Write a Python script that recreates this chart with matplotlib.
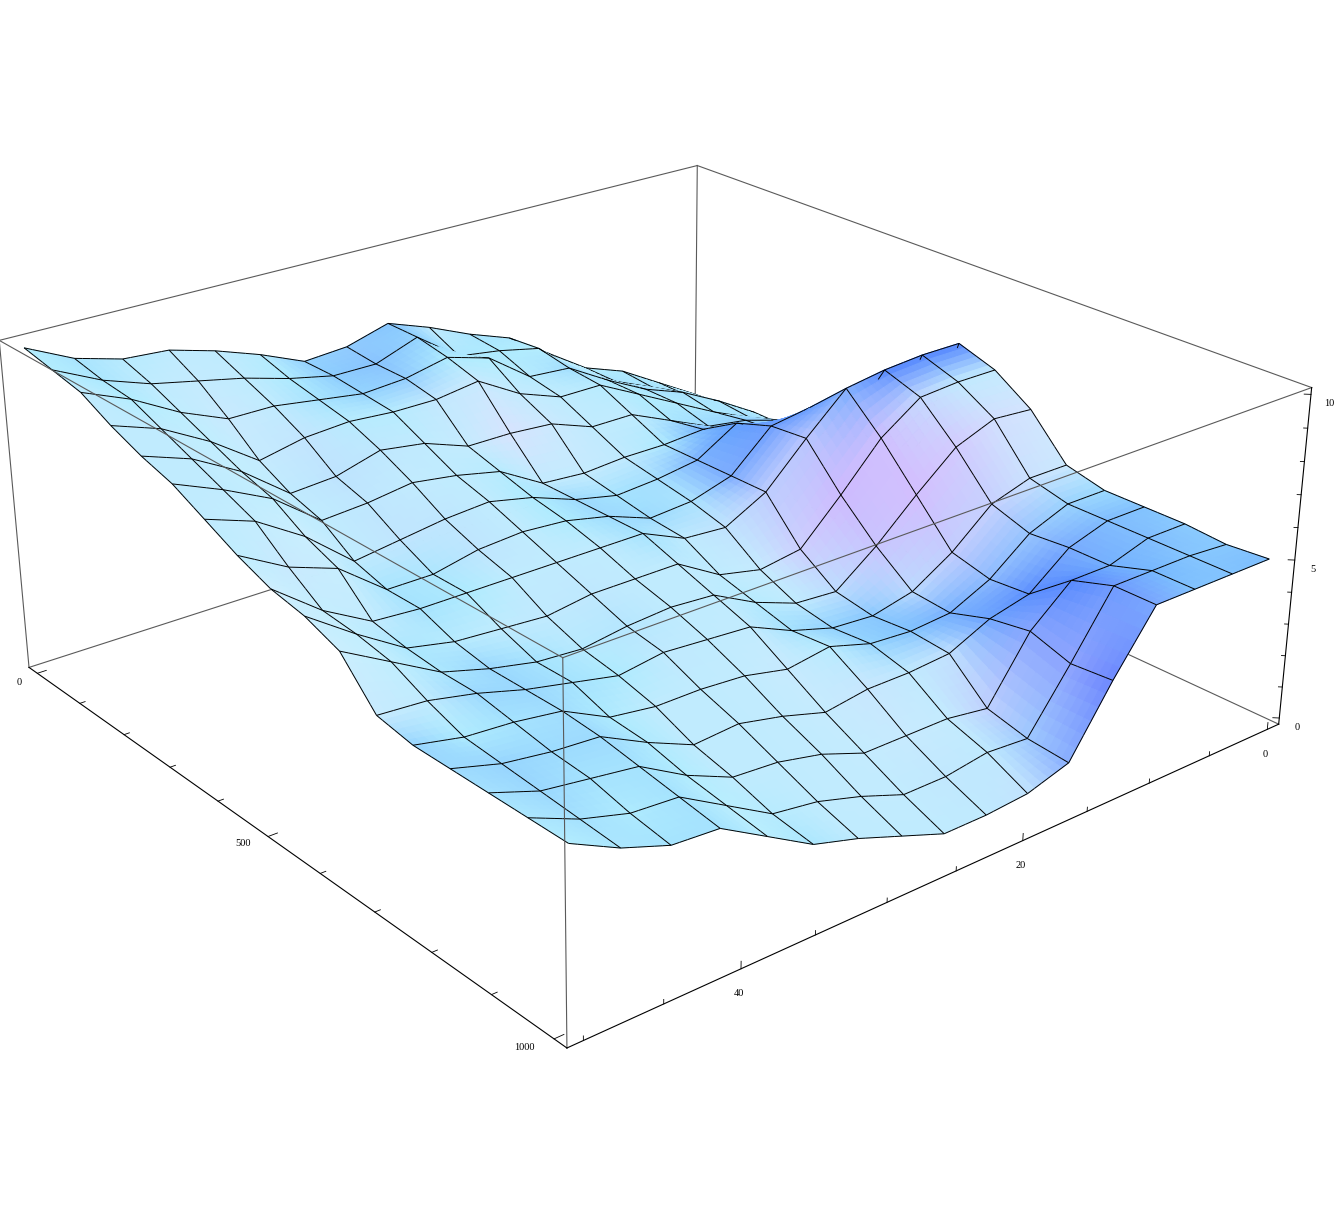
import numpy as np
import matplotlib
matplotlib.use("Agg")
import matplotlib.pyplot as plt
from mpl_toolkits.mplot3d import proj3d
from mpl_toolkits.mplot3d.art3d import Poly3DCollection

# height at each mesh crossing; index [x step][y step]
x_vals = np.linspace(0, 1000, 17)
y_vals = np.linspace(0, 50, 17)
z_rows = np.array([
    [2.3, 3.1, 3.9, 4.4, 5.3, 6.2, 6.7, 7.3, 7.8, 7.4, 7.3, 7.9, 8.4, 8.8, 8.9, 9.3, 10.0],
    [2.4, 3.1, 3.8, 4.4, 5.1, 6.3, 6.6, 6.8, 7.8, 7.3, 7.3, 7.6, 8.0, 8.3, 8.6, 9.1, 9.8],
    [2.6, 3.4, 4.1, 4.6, 5.3, 6.1, 6.2, 7.2, 7.6, 7.3, 7.2, 7.4, 7.6, 7.6, 8.2, 9.0, 9.6],
    [2.6, 3.3, 3.9, 4.6, 5.3, 6.0, 6.0, 6.5, 7.3, 7.1, 7.1, 7.2, 7.1, 6.8, 7.8, 8.6, 9.1],
    [2.9, 3.7, 4.1, 4.3, 4.9, 5.5, 5.5, 6.0, 6.1, 6.1, 6.6, 6.8, 6.4, 6.3, 7.4, 8.2, 8.7],
    [3.1, 3.7, 4.2, 4.6, 5.1, 5.0, 5.0, 4.9, 5.0, 5.8, 6.1, 6.3, 6.1, 6.0, 7.1, 7.8, 8.4],
    [3.4, 4.1, 4.7, 5.2, 5.8, 5.0, 4.8, 4.7, 5.0, 5.5, 5.8, 5.7, 5.5, 5.3, 6.5, 7.4, 7.9],
    [3.9, 4.7, 5.4, 6.4, 6.2, 5.0, 4.6, 4.5, 5.0, 5.3, 5.4, 5.3, 5.0, 5.0, 6.1, 6.6, 7.4],
    [7.8, 7.8, 7.7, 7.5, 6.3, 5.0, 4.3, 4.4, 5.0, 5.0, 5.0, 5.0, 5.0, 5.0, 5.1, 5.9, 7.0],
    [7.4, 7.4, 7.3, 6.4, 5.0, 3.7, 3.5, 3.8, 4.6, 4.6, 4.6, 4.4, 4.5, 4.6, 4.9, 5.8, 6.8],
    [6.6, 6.7, 6.2, 5.1, 3.9, 2.9, 3.0, 3.5, 4.2, 4.3, 4.2, 4.0, 4.1, 4.4, 4.8, 5.6, 6.4],
    [5.3, 5.3, 4.9, 3.8, 3.0, 2.7, 2.8, 3.2, 3.8, 3.9, 4.0, 3.8, 4.1, 4.4, 4.8, 5.1, 5.2],
    [5.0, 5.0, 4.5, 3.5, 2.9, 2.8, 2.9, 3.3, 3.1, 3.4, 3.5, 3.5, 3.7, 4.4, 4.6, 4.7, 5.0],
    [5.0, 5.0, 4.6, 3.6, 3.3, 2.7, 2.6, 2.6, 2.4, 2.8, 3.1, 3.0, 3.6, 4.3, 4.4, 4.6, 5.0],
    [5.0, 5.0, 4.6, 4.6, 3.5, 1.6, 1.8, 1.8, 1.8, 2.3, 2.6, 2.7, 3.3, 4.1, 4.3, 4.5, 5.0],
    [4.9, 5.0, 5.0, 5.0, 3.1, 1.3, 1.4, 1.2, 1.2, 1.7, 2.1, 2.3, 3.1, 3.9, 4.0, 4.4, 5.0],
    [5.0, 5.0, 5.0, 5.0, 3.2, 1.2, 0.8, 0.7, 0.7, 1.2, 1.7, 2.1, 2.9, 3.7, 3.8, 4.3, 5.0],
])

x_lim = (-20, 1020)
y_lim = (51, -1)
z_lim = (-0.2, 10.2)
x_ticks = np.arange(0, 1001, 100)
y_ticks = np.arange(0, 51, 5)
z_ticks = np.arange(0, 11, 1)
x_labels = [0, 500, 1000]
y_labels = [0, 20, 40]
z_labels = [0, 5, 10]

ELEV, AZIM, ROLL, FOCAL = 24.3063, -39.4607, -0.0778, 0.4363
ASPECT = (1, 1.0023, 0.4006)
SUB = 6

W, H = 1338, 1220
fig = plt.figure(figsize=(W / 100, H / 100), dpi=100)
side = 1297.2
ax = fig.add_axes([-23.2 / W, (H - 1199.6) / H, side / W, side / H], projection="3d")
ax.set_xlim(*x_lim)
ax.set_ylim(*y_lim)
ax.set_zlim(*z_lim)
ax.view_init(elev=ELEV, azim=AZIM, roll=ROLL)
ax.set_proj_type("persp", focal_length=FOCAL)
ax.set_box_aspect(ASPECT)
ax.set_axis_off()
M = ax.get_proj()


def vertex_colours():
    # colour follows the slope per mesh cell, matched to samples from the picture
    a = np.gradient(z_rows, axis=0)
    b = np.gradient(z_rows, axis=1)
    fall_x = np.maximum(-a, 0)
    rise_x = np.maximum(a, 0)
    fall_y = np.maximum(-b, 0)
    rise_y = np.maximum(b, 0)
    red = np.maximum(130 + 62 * np.minimum(1, fall_x / 0.35), 130 + 70 * rise_y)
    red = red - 60 * rise_x - 8 * fall_y + 35 * np.maximum(0, fall_x - 0.5)
    green = np.maximum(195 + 40 * np.minimum(1, fall_x / 0.25), 195 + 60 * rise_y)
    green = green - 60 * rise_x - 30 * fall_y - 15 * np.maximum(0, fall_x - 0.65)
    blue = np.full_like(red, 254)
    rgb = np.dstack([np.clip(red, 85, 235), np.clip(green, 135, 238), blue])
    return rgb / 255


def refine(a):
    # split each cell so the shading runs smoothly over it
    idx = np.arange(0, 16 + 1 / SUB / 2, 1 / SUB)
    lo = np.minimum(idx.astype(int), 15)
    f = idx - lo
    f0 = f.reshape((-1,) + (1,) * (a.ndim - 1))
    a = a[lo] * (1 - f0) + a[lo + 1] * f0
    f1 = f.reshape((1, -1) + (1,) * (a.ndim - 2))
    return a[:, lo] * (1 - f1) + a[:, lo + 1] * f1


xg, yg = np.meshgrid(x_vals, y_vals, indexing="ij")
fx, fy, fz = refine(xg), refine(yg), refine(z_rows)
fc = refine(vertex_colours())
pts = np.dstack([fx, fy, fz])

nf = fx.shape[0]
faces, colours = [], []
for i in range(nf - 1):
    for j in range(nf - 1):
        faces.append([pts[i, j], pts[i + 1, j], pts[i + 1, j + 1], pts[i, j + 1]])
        colours.append(fc[i:i + 2, j:j + 2].mean(axis=(0, 1)))

# mesh lines go in the same collection, pulled a bit towards the viewer so they sort on top
_, _, depth = proj3d.proj_transform(fx.ravel(), fy.ravel(), fz.ravel(), M)
bias = (depth.max() - depth.min()) / (16 * SUB) * 1.2
inv_m = np.linalg.inv(M)


def pulled(p):
    a, b, c = proj3d.proj_transform(p[0], p[1], p[2], M)
    q = proj3d.inv_transform(a, b, c - bias, inv_m)
    return np.array(q, dtype=float).ravel()


for k in range(0, nf, SUB):
    for m in range(nf - 1):
        for p, q in ((pts[k, m], pts[k, m + 1]), (pts[m, k], pts[m + 1, k])):
            p2, q2 = pulled(p), pulled(q)
            faces.append([p2, q2, q2, p2])
            colours.append(np.array([0.0, 0.0, 0.0]))

colours = np.array(colours)
surface = Poly3DCollection(faces, facecolors=colours, edgecolors=colours, linewidths=0.7)
ax.add_collection3d(surface, autolim=False)

# box: ya is the far side of the y range, yb the near side
xa, xb = x_lim
yb, ya = y_lim
za, zb = z_lim
grey = "#5a5a5a"
behind = [
    ((xa, ya, za), (xa, yb, za)), ((xa, ya, za), (xb, ya, za)), ((xa, ya, za), (xa, ya, zb)),
    ((xa, ya, zb), (xa, yb, zb)), ((xa, ya, zb), (xb, ya, zb)),
    ((xa, yb, za), (xa, yb, zb)),
]
front = [
    ((xb, yb, za), (xb, yb, zb)), ((xb, yb, zb), (xa, yb, zb)), ((xb, yb, zb), (xb, ya, zb)),
]
for p, q in behind:
    ax.plot(*zip(p, q), color=grey, lw=0.8, zorder=1, clip_on=False)
for p, q in front:
    ax.plot(*zip(p, q), color=grey, lw=0.8, zorder=50, clip_on=False)

# axes with ticks
ax.plot([xa, xb], [yb, yb], [za, za], color="black", lw=0.8, zorder=60, clip_on=False)
ax.plot([xb, xb], [yb, ya], [za, za], color="black", lw=0.8, zorder=60, clip_on=False)
ax.plot([xb, xb], [ya, ya], [za, zb], color="black", lw=0.8, zorder=60, clip_on=False)
for t in x_ticks:
    size = 0.6 if t in x_labels else 0.35
    ax.plot([t, t], [yb, yb - size], [za, za], color="black", lw=0.6, zorder=60, clip_on=False)
for t in y_ticks:
    size = 0.22 if t in y_labels else 0.13
    ax.plot([xb, xb], [t, t], [za, za + size], color="black", lw=0.6, zorder=60, clip_on=False)
for t in z_ticks:
    size = 0.005 if t in z_labels else 0.003
    ax.plot([xb, xb - size * 1040], [ya, ya + size * 52], [t, t], color="black", lw=0.6,
            zorder=60, clip_on=False)


def label(text, p, dx, dy):
    a, b, _ = proj3d.proj_transform(p[0], p[1], p[2], M)
    ax.annotate(str(text), xy=(a, b), xytext=(dx, dy), textcoords="offset pixels",
                ha="center", va="center", fontsize=7.5, family="Liberation Serif",
                annotation_clip=False)


for t, d in zip(x_labels, [(-18, -9), (-25, -7), (-30, -9)]):
    label(t, (t, yb, za), *d)
for t in y_labels:
    label(t, (xb, t, za), -2, -25)
for t in z_labels:
    label(t, (xb, ya, t), 18, -9)

fig.savefig("out.png", dpi=100)
